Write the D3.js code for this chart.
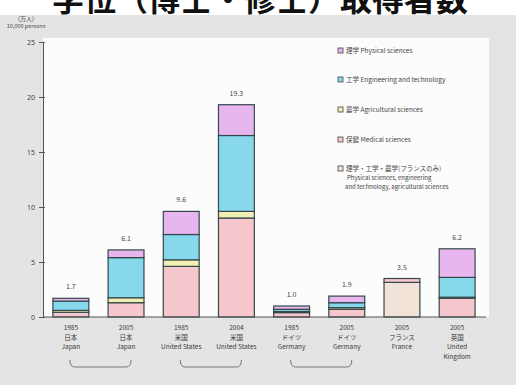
<!DOCTYPE html>
<html><head><meta charset="utf-8">
<script src="https://cdn.jsdelivr.net/npm/d3@7"></script>
<style>
html,body{margin:0;padding:0;background:#fff;}
svg{display:block;}
text{font-family:"Noto Sans CJK JP","Noto Sans",sans-serif;}
</style></head>
<body>
<svg id="chart" width="516" height="385"></svg>
<script>
// ---- data ----
const years = ["1985","2005","1985","2004","1985","2005","2005","2005"];
const countryJa = ["日本","日本","米国","米国","ドイツ","ドイツ","フランス","英国"];
const countryEn = ["Japan","Japan","United States","United States","Germany","Germany","France","United\nKingdom"];
const totals = [1.7, 6.1, 9.6, 19.3, 1.0, 1.9, 3.5, 6.2];
const combined     = [0, 0, 0, 0, 0, 0, 3.15, 0];
const medical      = [0.43, 1.3, 4.6, 9.0, 0.4, 0.7, 0.35, 1.7];
const agricultural = [0.17, 0.45, 0.6, 0.6, 0.1, 0.15, 0, 0.1];
const engineering  = [0.85, 3.65, 2.3, 6.9, 0.2, 0.45, 0, 1.8];
const physical     = [0.25, 0.7, 2.1, 2.8, 0.3, 0.6, 0, 2.6];
const yTicks = [0, 5, 10, 15, 20, 25];
const seriesKeys = ["combined","medical","agricultural","engineering","physical"];
const legendJa = ["理学","工学","農学","保健","理学・工学・農学(フランスのみ)"];
const legendEn = ["Physical sciences","Engineering and technology","Agricultural sciences","Medical sciences",
                  "Physical sciences, engineering\nand technology, agricultural sciences"];
const legendKeys = ["physical","engineering","agricultural","medical","combined"];
const pairs = [[0,1],[2,3],[4,5]];
const titleText = "学位（博士・修士）取得者数";
const unitJa = "(万人)";
const unitEn = "10,000 persons";

const colors = {physical:"#e8b6ee", engineering:"#86d8ea", agricultural:"#f1efb4", medical:"#f6c7cd", combined:"#f2e3d9"};

const svg = d3.select("#chart");
const W = 516, H = 385;

// backgrounds
svg.append("rect").attr("x",0).attr("y",0).attr("width",W).attr("height",H).attr("fill","#fff");
svg.append("rect").attr("x",0).attr("y",15).attr("width",W).attr("height",H-15).attr("fill","#e4e4e4");

const idx = d3.range(years.length);
const x = d3.scaleBand().domain(idx).range([43, 485]).paddingInner(0.35).paddingOuter(0.18);
const y = d3.scaleLinear().domain([0, 25]).range([317, 42]);

// white panel
svg.append("rect").attr("x", 43).attr("y", 38).attr("width", 446).attr("height", y(0)-38).attr("fill","#fcfcfc");

// title (cropped at top, as in the reference)
svg.append("text").attr("x", 260).attr("y", 11).attr("text-anchor","middle")
  .attr("font-size", 32).attr("font-weight", 700).attr("fill","#111").text(titleText);

// stacked bars
const rows = idx.map(i => ({i, combined:combined[i], medical:medical[i], agricultural:agricultural[i], engineering:engineering[i], physical:physical[i]}));
const stack = d3.stack().keys(seriesKeys)(rows);
const g = svg.append("g");
stack.forEach(layer => {
  g.selectAll(null).data(layer.filter(d => d[1]-d[0] > 0)).enter().append("rect")
    .attr("x", d => x(d.data.i))
    .attr("width", x.bandwidth())
    .attr("y", d => y(d[1]))
    .attr("height", d => y(d[0]) - y(d[1]))
    .attr("fill", colors[layer.key])
    .attr("stroke", "#34484a").attr("stroke-width", 1.2);
});

// value labels
svg.selectAll(null).data(idx).enter().append("text")
  .attr("x", i => x(i) + x.bandwidth()/2)
  .attr("y", i => y(totals[i]) - 9)
  .attr("text-anchor","middle").attr("font-size", 7).attr("fill","#444")
  .text(i => totals[i].toFixed(1));

// y axis
const yAxis = d3.axisLeft(y).tickValues(yTicks).tickSize(4).tickPadding(4);
const ya = svg.append("g").attr("transform","translate(43,0)").call(yAxis);
ya.select(".domain").attr("stroke","#555");
ya.selectAll(".tick line").attr("stroke","#555").attr("x2", 2).attr("x1",-4);
ya.selectAll(".tick text").attr("font-size", 7).attr("fill","#444")
  .style("font-family",'"Noto Sans","DejaVu Sans",sans-serif');

// x baseline
svg.append("line").attr("x1", 43).attr("x2", 486).attr("y1", y(0)).attr("y2", y(0))
  .attr("stroke","#555").attr("stroke-width",1.2);

// unit labels
svg.append("text").attr("x", 26).attr("y", 21).attr("text-anchor","middle").attr("font-size",6).attr("fill","#444").text(unitJa);
svg.append("text").attr("x", 26).attr("y", 28).attr("text-anchor","middle").attr("font-size",5.5).attr("fill","#444").text(unitEn);

// x labels
const xl = svg.selectAll(null).data(idx).enter().append("text")
  .attr("text-anchor","middle").attr("font-size", 6.5).attr("fill","#3a3a3a");
xl.each(function(i){
  const t = d3.select(this);
  const cx = x(i) + x.bandwidth()/2;
  const lines = [years[i], countryJa[i]].concat(countryEn[i].split("\n"));
  lines.forEach((s, k) => t.append("tspan").attr("x", cx).attr("y", 330 + k*9.5).text(s));
});

// brackets
const br = svg.append("g").attr("fill","none").attr("stroke","#777").attr("stroke-width",1);
pairs.forEach(([a,b]) => {
  const x1 = x(a) + x.bandwidth()/2 - 1, x2 = x(b) + x.bandwidth()/2 + 5;
  const yTop = 360, yB = 367;
  br.append("path").attr("d", `M${x1},${yTop} Q${x1},${yB} ${x1+5},${yB} L${x2-5},${yB} Q${x2},${yB} ${x2},${yTop}`);
});

// legend
const lg = svg.append("g");
const legY = [53, 82, 112, 142, 171];
legendKeys.forEach((k, j) => {
  const yy = legY[j];
  lg.append("rect").attr("x", 338).attr("y", yy-5).attr("width", 5).attr("height", 5)
    .attr("fill", colors[k]).attr("stroke","#444").attr("stroke-width",0.8);
  const t = lg.append("text").attr("x", 346).attr("y", yy).attr("font-size", 6.5).attr("fill","#444");
  const enLines = legendEn[j].split("\n");
  if (enLines.length === 1) {
    t.text(legendJa[j] + " " + enLines[0]);
  } else {
    t.text(legendJa[j]);
    enLines.forEach((s, m) => lg.append("text").attr("x", 347 + (m===1?-2:0)).attr("y", yy + 9 + m*8.5)
      .attr("font-size", 6).attr("fill","#444").text(s));
  }
});
</script>
</body></html>
